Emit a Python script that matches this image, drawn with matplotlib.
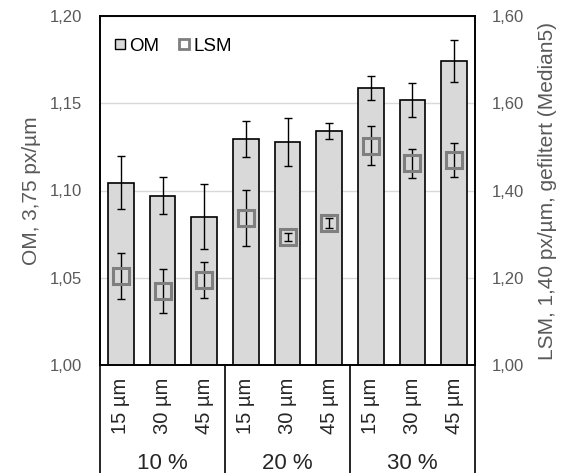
""" OM / LSM comparison chart with grouped category axis """

import matplotlib
matplotlib.use("Agg")
from matplotlib import pyplot as plt
from matplotlib.lines import Line2D
from matplotlib.ticker import FuncFormatter

plt.rcParams['font.family'] = ['Liberation Sans', 'DejaVu Sans']

groups = ["10 %", "20 %", "30 %"]
sizes = ["15 µm", "30 µm", "45 µm"]

om_mean = [1.1045, 1.097, 1.085, 1.1295, 1.128, 1.134, 1.1586, 1.152, 1.1744]
om_err = [0.015, 0.0105, 0.0185, 0.0105, 0.0137, 0.0044, 0.007, 0.0097, 0.012]

lsm_mean = [1.204, 1.170, 1.195, 1.336, 1.294, 1.325, 1.503, 1.462, 1.470]
lsm_err = [0.053, 0.05, 0.042, 0.064, 0.009, 0.0115, 0.045, 0.034, 0.04]

left_ticks = [1.00, 1.05, 1.10, 1.15, 1.20]
right_ticks = [1.00, 1.20, 1.40, 1.60, 1.80]
right_labels = ["1,00", "1,20", "1,40", "1,60", "1,60"]

TICK_COLOR = "#595959"
BAR_COLOR = "#d9d9d9"
LSM_COLOR = "#7f7f7f"

W, H = 567, 473
fig = plt.figure(figsize=(W / 100, H / 100), dpi=100)
ax = fig.add_axes([100 / W, (H - 365) / H, 375 / W, 349 / H])
ax2 = ax.twinx()

x = list(range(len(om_mean)))

# bars (left axis)
ax.set_axisbelow(True)
ax.yaxis.grid(True, color=BAR_COLOR, linewidth=1.0)
ax.bar(x, om_mean, width=0.62, bottom=0, color=BAR_COLOR, edgecolor="black",
       linewidth=1.2, zorder=2)
ax.errorbar(x, om_mean, yerr=om_err, fmt="none", ecolor="black",
            elinewidth=1.0, capsize=3, capthick=1.0, zorder=3)
ax.set_ylim(1.0, 1.2)
ax.set_xlim(-0.5, len(x) - 0.5)
ax.set_yticks(left_ticks)
ax.yaxis.set_major_formatter(FuncFormatter(lambda v, p: f"{v:.2f}".replace(".", ",")))
ax.tick_params(axis="y", length=0, pad=13, labelsize=12, labelcolor=TICK_COLOR)
ax.set_xticks([])
ax.set_ylabel("OM, 3,75 px/µm", fontsize=15, color=TICK_COLOR, labelpad=6)

# markers (right axis)
ax2.errorbar(x, lsm_mean, yerr=lsm_err, fmt="none", ecolor="black",
             elinewidth=1.0, capsize=3, capthick=1.0, zorder=3)
ax2.plot(x, lsm_mean, linestyle="none", marker="s", markersize=11.5,
         markerfacecolor="none", markeredgecolor=LSM_COLOR,
         markeredgewidth=2.2, zorder=4)
ax2.set_ylim(1.0, 1.8)
ax2.set_yticks(right_ticks)
ax2.set_yticklabels(right_labels)
ax2.tick_params(axis="y", length=0, pad=12, labelsize=12, labelcolor=TICK_COLOR)
ax2.set_ylabel("LSM, 1,40 px/µm, gefiltert (Median5)", fontsize=15,
               color=TICK_COLOR, labelpad=10)

for a in (ax, ax2):
    for s in a.spines.values():
        s.set_color("black")
        s.set_linewidth(1.2)

# category table below the plot
trans = ax.get_xaxis_transform()
n = len(sizes)
for g in range(len(groups) + 1):
    xe = g * n - 0.5
    ax.plot([xe, xe], [0, -0.32], transform=trans, color="black",
            linewidth=1.2, clip_on=False)
for i in x:
    ax.text(i, -0.117, sizes[i % n], transform=trans, rotation=90,
            ha="center", va="center", fontsize=14.5, color="#262626")
for g, name in enumerate(groups):
    ax.text(g * n + (n - 1) / 2, -0.283, name, transform=trans,
            ha="center", va="center", fontsize=16, color="#262626")

handles = [
    Line2D([], [], linestyle="none", marker="s", markersize=6.5,
           markerfacecolor=BAR_COLOR, markeredgecolor="black", markeredgewidth=1.0),
    Line2D([], [], linestyle="none", marker="s", markersize=7,
           markerfacecolor="white", markeredgecolor=LSM_COLOR, markeredgewidth=2.0),
]
ax2.legend(handles, ["OM", "LSM"], loc="upper left", bbox_to_anchor=(0.0, 0.975),
           ncol=2, frameon=False, fontsize=13.5, handlelength=0.7,
           handletextpad=0.15, columnspacing=1.0, borderaxespad=0.3)

fig.savefig("out.png", dpi=100)
